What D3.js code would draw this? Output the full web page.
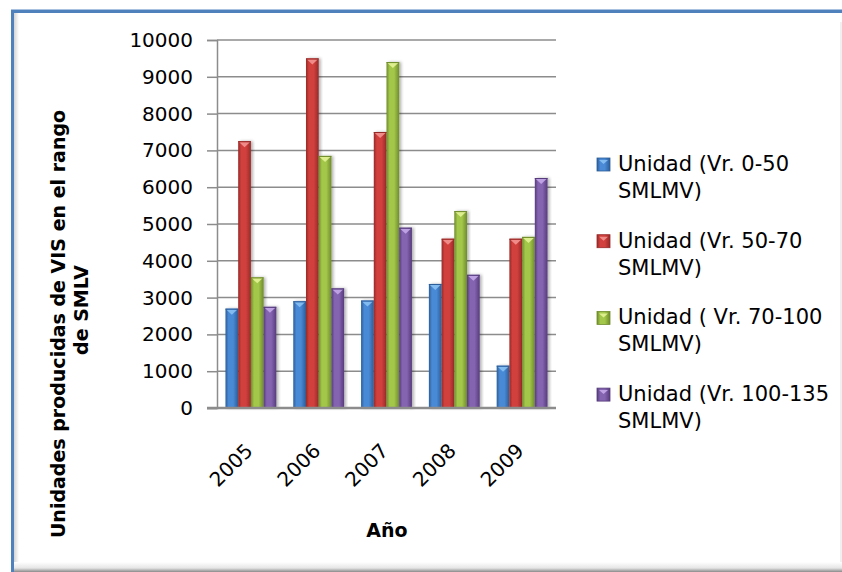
<!DOCTYPE html>
<html>
<head>
<meta charset="utf-8">
<script src="https://cdn.jsdelivr.net/npm/d3@7"></script>
<style>
  html, body { margin: 0; padding: 0; background: #ffffff; }
  svg { display: block; }
  text { font-family: "DejaVu Sans", "Liberation Sans", sans-serif; fill: #000; }
</style>
</head>
<body>
<svg id="chart" width="842" height="572"></svg>
<script>
// Years on the category axis
const years = ["2005", "2006", "2007", "2008", "2009"];

// Legend entries, each split over two lines
const seriesNames = [
  ["Unidad (Vr. 0-50", "SMLMV)"],
  ["Unidad (Vr. 50-70", "SMLMV)"],
  ["Unidad ( Vr. 70-100", "SMLMV)"],
  ["Unidad (Vr. 100-135", "SMLMV)"]
];

// Units produced per price range, one array per series, in year order
const vr0_50    = [2700, 2900, 2920, 3370, 1150];
const vr50_70   = [7250, 9500, 7500, 4600, 4600];
const vr70_100  = [3550, 6850, 9400, 5350, 4650];
const vr100_135 = [2750, 3250, 4900, 3620, 6250];

const yTicks = [0, 1000, 2000, 3000, 4000, 5000, 6000, 7000, 8000, 9000, 10000];

const seriesValues = [vr0_50, vr50_70, vr70_100, vr100_135];

// Bar fill: dark edge, bright centre, dark edge
const palette = [
  { edge: "#2c5d98", mid: "#4a8ad6", light: "#8cc3f5" },
  { edge: "#962a28", mid: "#d2413e", light: "#f59a96" },
  { edge: "#6f8b2c", mid: "#a3c74a", light: "#e6f59a" },
  { edge: "#563c7c", mid: "#8463b0", light: "#c8acec" }
];

const svg = d3.select("#chart");
const defs = svg.append("defs");

palette.forEach((p, i) => {
  const g = defs.append("linearGradient")
    .attr("id", "bar" + i).attr("x1", "0").attr("x2", "1").attr("y1", "0").attr("y2", "0");
  g.append("stop").attr("offset", "0%").attr("stop-color", p.edge);
  g.append("stop").attr("offset", "25%").attr("stop-color", p.mid);
  g.append("stop").attr("offset", "60%").attr("stop-color", p.mid);
  g.append("stop").attr("offset", "100%").attr("stop-color", p.edge);
});

const shadow = defs.append("filter").attr("id", "barShadow")
  .attr("x", "-30%").attr("y", "-5%").attr("width", "160%").attr("height", "110%");
shadow.append("feDropShadow").attr("dx", 2).attr("dy", 0).attr("stdDeviation", 1.6)
  .attr("flood-color", "#000").attr("flood-opacity", 0.3);

// Bottom frame shadow
const bottomShade = defs.append("linearGradient")
  .attr("id", "bottomShade").attr("x1", "0").attr("x2", "0").attr("y1", "0").attr("y2", "1");
bottomShade.append("stop").attr("offset", "0%").attr("stop-color", "#ffffff");
bottomShade.append("stop").attr("offset", "60%").attr("stop-color", "#e6e6e6");
bottomShade.append("stop").attr("offset", "100%").attr("stop-color", "#8a8a8a");

const leftShade = defs.append("linearGradient")
  .attr("id", "leftShade").attr("x1", "0").attr("x2", "1").attr("y1", "0").attr("y2", "0");
leftShade.append("stop").attr("offset", "0%").attr("stop-color", "#d4d4d4");
leftShade.append("stop").attr("offset", "100%").attr("stop-color", "#ffffff");

// Frame
svg.append("rect").attr("x", 0).attr("y", 0).attr("width", 842).attr("height", 572).attr("fill", "#fff");
svg.append("rect").attr("x", 14).attr("y", 13).attr("width", 5).attr("height", 552).attr("fill", "url(#leftShade)");
svg.append("rect").attr("x", 14).attr("y", 562).attr("width", 828).attr("height", 10).attr("fill", "url(#bottomShade)");
svg.append("rect").attr("x", 11).attr("y", 9).attr("width", 831).attr("height", 1).attr("fill", "#a9c1e0");
svg.append("rect").attr("x", 11).attr("y", 10).attr("width", 831).attr("height", 3).attr("fill", "#4f81bd");
svg.append("rect").attr("x", 11).attr("y", 10).attr("width", 3).attr("height", 562).attr("fill", "#4f81bd");
svg.append("rect").attr("x", 840).attr("y", 22).attr("width", 2).attr("height", 540).attr("fill", "#f0f0f0");

// Scales
const plotLeft = 217, plotRight = 556, plotTop = 40, plotBottom = 408;

const y = d3.scaleLinear().domain([0, 10000]).range([plotBottom, plotTop]);
const x = d3.scaleBand().domain(years).range([plotLeft, plotRight])
  .paddingInner(0.25).paddingOuter(0.125);
const xs = d3.scaleBand().domain(d3.range(seriesValues.length)).range([0, x.bandwidth()]);

// Horizontal gridlines with tick marks
const yAxis = d3.axisLeft(y).tickValues(yTicks).tickSize(10).tickPadding(14)
  .tickFormat(d3.format("d"));
const yAxisG = svg.append("g").attr("transform", `translate(${plotLeft},0)`).call(yAxis);
yAxisG.select(".domain").attr("stroke", "#8c8c8c").attr("stroke-width", 1.5);
yAxisG.selectAll(".tick line").attr("stroke", "#8c8c8c").attr("stroke-width", 1.5);
yAxisG.selectAll(".tick text").style("font-size", "20px").attr("fill", "#000")
  .style("font-family", '"DejaVu Sans", sans-serif');

svg.append("g").selectAll("line.grid").data(yTicks.filter(d => d > 0)).join("line")
  .attr("x1", plotLeft).attr("x2", plotRight)
  .attr("y1", d => y(d)).attr("y2", d => y(d))
  .attr("stroke", "#8c8c8c").attr("stroke-width", 1.5);

// Bars
const bars = [];
years.forEach((yr, i) => {
  seriesValues.forEach((vals, s) => bars.push({ year: yr, s, v: vals[i] }));
});

const barG = svg.append("g");
barG.selectAll("rect.bar").data(bars).join("rect")
  .attr("class", "bar")
  .attr("x", d => x(d.year) + xs(d.s))
  .attr("y", d => y(d.v))
  .attr("width", xs.bandwidth())
  .attr("height", d => y(0) - y(d.v))
  .attr("fill", d => `url(#bar${d.s})`)
  .attr("filter", "url(#barShadow)");

// Bevel highlight at the top of each bar
barG.selectAll("path.cap").data(bars).join("path")
  .attr("d", d => {
    const x0 = x(d.year) + xs(d.s), w = xs.bandwidth(), t = y(d.v);
    return `M${x0 + 1},${t + 1} L${x0 + w - 1},${t + 1} L${x0 + w / 2},${t + 6} Z`;
  })
  .attr("fill", d => palette[d.s].light).attr("opacity", 0.85);

barG.selectAll("line.top").data(bars).join("line")
  .attr("x1", d => x(d.year) + xs(d.s)).attr("x2", d => x(d.year) + xs(d.s) + xs.bandwidth())
  .attr("y1", d => y(d.v) + 0.5).attr("y2", d => y(d.v) + 0.5)
  .attr("stroke", d => palette[d.s].edge).attr("stroke-width", 1);

// Category axis line
svg.append("line").attr("x1", plotLeft - 10).attr("x2", plotRight)
  .attr("y1", y(0)).attr("y2", y(0))
  .attr("stroke", "#8c8c8c").attr("stroke-width", 2.5);

// Year labels, slanted
svg.append("g").selectAll("text").data(years).join("text")
  .attr("transform", d => `translate(${x(d) + x.bandwidth() / 2 + 3},452) rotate(-45)`)
  .attr("text-anchor", "end")
  .style("font-size", "20px")
  .text(d => d);

// Axis titles
svg.append("text").attr("x", 387).attr("y", 537).attr("text-anchor", "middle")
  .style("font-size", "19px").style("font-weight", "bold").text("Año");

svg.append("text").attr("transform", "translate(65,324) rotate(-90)").attr("text-anchor", "middle")
  .style("font-size", "19px").style("font-weight", "bold")
  .text("Unidades producidas de VIS en el rango");
svg.append("text").attr("transform", "translate(88,310) rotate(-90)").attr("text-anchor", "middle")
  .style("font-size", "19px").style("font-weight", "bold")
  .text("de SMLV");

// Legend
const legend = svg.append("g").selectAll("g").data(seriesNames).join("g")
  .attr("transform", (d, i) => `translate(597,${171 + i * 76.7})`);
legend.append("rect").attr("x", 0).attr("y", -13).attr("width", 13).attr("height", 13)
  .attr("fill", (d, i) => `url(#bar${i})`).attr("stroke", (d, i) => palette[i].edge).attr("stroke-width", 0.8);
legend.append("path")
  .attr("d", "M2,-11 L11,-11 L6.5,-7 Z")
  .attr("fill", (d, i) => palette[i].light).attr("opacity", 0.85);
legend.append("text").attr("x", 21).attr("y", 0).style("font-size", "21px").text(d => d[0]);
legend.append("text").attr("x", 21).attr("y", 27).style("font-size", "21px").text(d => d[1]);
</script>
</body>
</html>
